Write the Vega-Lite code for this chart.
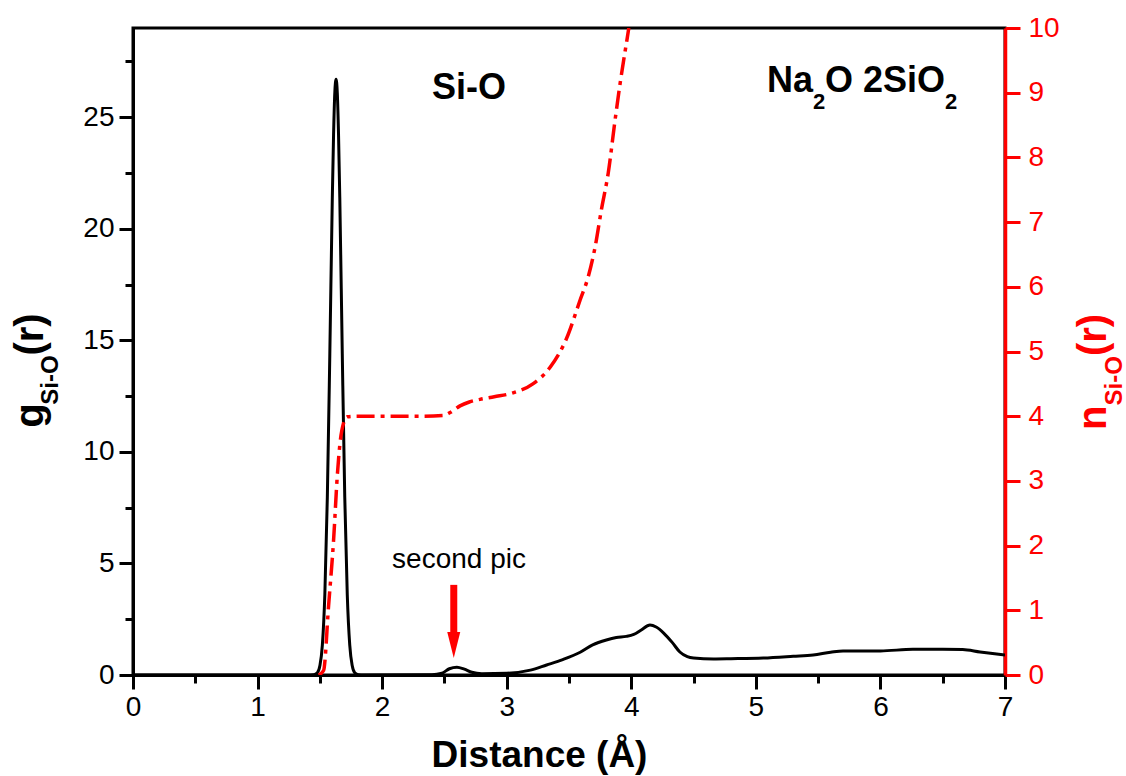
{
  "$schema": "https://vega.github.io/schema/vega-lite/v6.json",
  "width": 872,
  "height": 647,
  "autosize": {"type": "none"},
  "padding": {"left": 133, "top": 28, "right": 121, "bottom": 101},
  "background": "white",
  "view": {"stroke": "black", "strokeWidth": 3},
  "config": {"font": "Liberation Sans", "axis": {"grid": false, "labelFont": "Liberation Sans", "titleFont": "Liberation Sans"}},
  "datasets": {
    "g": [
      {"r": 0, "g": 0}, {"r": 1.40, "g": 0}, {"r": 1.45, "g": 0.01}, {"r": 1.48, "g": 0.10},
      {"r": 1.50, "g": 0.41}, {"r": 1.52, "g": 1.34}, {"r": 1.54, "g": 3.61}, {"r": 1.56, "g": 7.96},
      {"r": 1.58, "g": 14.4}, {"r": 1.60, "g": 21.4}, {"r": 1.61, "g": 24.2}, {"r": 1.62, "g": 26.1},
      {"r": 1.63, "g": 26.7}, {"r": 1.64, "g": 26.1}, {"r": 1.65, "g": 24.2}, {"r": 1.66, "g": 21.4},
      {"r": 1.68, "g": 14.4}, {"r": 1.70, "g": 7.96}, {"r": 1.72, "g": 3.61}, {"r": 1.74, "g": 1.34},
      {"r": 1.76, "g": 0.41}, {"r": 1.78, "g": 0.10}, {"r": 1.81, "g": 0.01}, {"r": 1.85, "g": 0},
      {"r": 2.40, "g": 0.01}, {"r": 2.48, "g": 0.08}, {"r": 2.54, "g": 0.28}, {"r": 2.60, "g": 0.35},
      {"r": 2.66, "g": 0.26}, {"r": 2.72, "g": 0.12}, {"r": 2.80, "g": 0.06}, {"r": 3.00, "g": 0.08},
      {"r": 3.19, "g": 0.22}, {"r": 3.32, "g": 0.45}, {"r": 3.45, "g": 0.69}, {"r": 3.59, "g": 1.02},
      {"r": 3.69, "g": 1.35}, {"r": 3.80, "g": 1.57}, {"r": 3.88, "g": 1.68}, {"r": 3.96, "g": 1.73},
      {"r": 4.02, "g": 1.82}, {"r": 4.08, "g": 2.02}, {"r": 4.15, "g": 2.24}, {"r": 4.20, "g": 2.15},
      {"r": 4.26, "g": 1.88}, {"r": 4.33, "g": 1.45}, {"r": 4.39, "g": 1.03}, {"r": 4.45, "g": 0.82},
      {"r": 4.50, "g": 0.76}, {"r": 4.66, "g": 0.72}, {"r": 4.80, "g": 0.73}, {"r": 5.06, "g": 0.76},
      {"r": 5.30, "g": 0.84}, {"r": 5.46, "g": 0.90}, {"r": 5.60, "g": 1.02}, {"r": 5.70, "g": 1.08},
      {"r": 6.00, "g": 1.08}, {"r": 6.26, "g": 1.15}, {"r": 6.50, "g": 1.15}, {"r": 6.66, "g": 1.14},
      {"r": 6.80, "g": 1.03}, {"r": 6.90, "g": 0.96}, {"r": 7.00, "g": 0.90}
    ],
    "n": [
      {"r": 1.49, "n": 0}, {"r": 1.53, "n": 0.07}, {"r": 1.57, "n": 1.07}, {"r": 1.61, "n": 2.08},
      {"r": 1.64, "n": 3.08}, {"r": 1.66, "n": 3.55}, {"r": 1.69, "n": 3.89}, {"r": 1.72, "n": 3.99},
      {"r": 1.80, "n": 4.0}, {"r": 2.0, "n": 4.0}, {"r": 2.3, "n": 4.0}, {"r": 2.49, "n": 4.01},
      {"r": 2.55, "n": 4.06}, {"r": 2.625, "n": 4.16}, {"r": 2.70, "n": 4.22}, {"r": 2.786, "n": 4.26},
      {"r": 2.90, "n": 4.30}, {"r": 3.05, "n": 4.36}, {"r": 3.21, "n": 4.5}, {"r": 3.35, "n": 4.76},
      {"r": 3.48, "n": 5.2}, {"r": 3.59, "n": 5.8}, {"r": 3.655, "n": 6.16}, {"r": 3.71, "n": 6.62},
      {"r": 3.76, "n": 7.19}, {"r": 3.815, "n": 7.76}, {"r": 3.87, "n": 8.58}, {"r": 3.91, "n": 9.14},
      {"r": 3.976, "n": 9.95}, {"r": 3.98, "n": 10.0}
    ],
    "bigText": [
      {"text": "Na", "x": 5.09, "y": 26.12},
      {"text": "O 2SiO", "x": 5.555, "y": 26.12}
    ],
    "subText": [
      {"text": "2", "x": 5.459, "y": 25.38},
      {"text": "2", "x": 6.5185, "y": 25.38}
    ],
    "leftTitleBig": [
      {"text": "g", "x": -0.7225, "y": 11.086},
      {"text": "(r)", "x": -0.7225, "y": 14.318}
    ],
    "leftTitleSub": [
      {"text": "Si-O", "x": -0.602, "y": 12.118}
    ],
    "rightTitleBig": [
      {"text": "n", "x": 7.811, "y": 3.787},
      {"text": "(r)", "x": 7.811, "y": 4.93}
    ],
    "rightTitleSub": [
      {"text": "Si-O", "x": 7.939, "y": 4.167}
    ]
  },
  "layer": [
    {
      "layer": [
        {
          "data": {"name": "g"},
          "mark": {"type": "line", "color": "black", "strokeWidth": 3, "interpolate": "monotone", "clip": true},
          "encoding": {
            "x": {"field": "r", "type": "quantitative", "scale": {"domain": [0, 7], "nice": false, "zero": false},
              "axis": {
                "values": [0, 0.5, 1, 1.5, 2, 2.5, 3, 3.5, 4, 4.5, 5, 5.5, 6, 6.5, 7],
                "labelExpr": "datum.value % 1 === 0 ? format(datum.value, 'd') : ''",
                "labelFlush": false, "labelOverlap": false,
                "tickSize": {"condition": {"test": "datum.value % 1 === 0", "value": 14}, "value": 8},
                "tickWidth": 3, "domainWidth": 3, "domainColor": "black", "tickColor": "black",
                "labelFontSize": 28, "labelColor": "black", "labelPadding": 4,
                "title": "Distance (Å)", "titleFontSize": 37, "titleFontWeight": "bold", "titleColor": "black",
                "titleX": 406, "titleY": 91, "titleBaseline": "alphabetic", "titleAlign": "center"
              }},
            "y": {"field": "g", "type": "quantitative", "scale": {"domain": [0, 29], "nice": false},
              "axis": {
                "orient": "left",
                "values": [0, 2.5, 5, 7.5, 10, 12.5, 15, 17.5, 20, 22.5, 25, 27.5],
                "labelExpr": "datum.value % 5 === 0 ? format(datum.value, 'd') : ''",
                "labelOverlap": false,
                "tickSize": {"condition": {"test": "datum.value % 5 === 0", "value": 14}, "value": 8},
                "tickWidth": 3, "domainWidth": 3, "domainColor": "black", "tickColor": "black",
                "labelFontSize": 28, "labelColor": "black", "labelPadding": 5,
                "title": null
              }}
          }
        },
        {
          "data": {"values": [{"label": "Si-O", "x": 2.697, "y": 25.81}]},
          "mark": {"type": "text", "fontSize": 36, "fontWeight": "bold", "color": "black", "align": "center", "baseline": "alphabetic"},
          "encoding": {
            "x": {"field": "x", "type": "quantitative", "scale": {"domain": [0, 7]}},
            "y": {"field": "y", "type": "quantitative", "scale": {"domain": [0, 29]}},
            "text": {"field": "label"}
          }
        },
        {
          "data": {"name": "bigText"},
          "mark": {"type": "text", "fontSize": 36, "fontWeight": "bold", "color": "black", "align": "left", "baseline": "alphabetic"},
          "encoding": {
            "x": {"field": "x", "type": "quantitative", "scale": {"domain": [0, 7]}},
            "y": {"field": "y", "type": "quantitative", "scale": {"domain": [0, 29]}},
            "text": {"field": "text"}
          }
        },
        {
          "data": {"name": "subText"},
          "mark": {"type": "text", "fontSize": 22, "fontWeight": "bold", "color": "black", "align": "left", "baseline": "alphabetic"},
          "encoding": {
            "x": {"field": "x", "type": "quantitative", "scale": {"domain": [0, 7]}},
            "y": {"field": "y", "type": "quantitative", "scale": {"domain": [0, 29]}},
            "text": {"field": "text"}
          }
        },
        {
          "data": {"values": [{"label": "second pic", "x": 2.617, "y": 4.80}]},
          "mark": {"type": "text", "fontSize": 28, "color": "black", "align": "center", "baseline": "alphabetic"},
          "encoding": {
            "x": {"field": "x", "type": "quantitative", "scale": {"domain": [0, 7]}},
            "y": {"field": "y", "type": "quantitative", "scale": {"domain": [0, 29]}},
            "text": {"field": "label"}
          }
        },
        {
          "data": {"values": [{"x": 2.575, "y1": 4.04, "y2": 1.8}]},
          "mark": {"type": "rule", "color": "red", "strokeWidth": 7},
          "encoding": {
            "x": {"field": "x", "type": "quantitative", "scale": {"domain": [0, 7]}},
            "y": {"field": "y1", "type": "quantitative", "scale": {"domain": [0, 29]}},
            "y2": {"field": "y2"}
          }
        },
        {
          "data": {"values": [{"x": 2.575, "y": 1.35}]},
          "mark": {"type": "point", "shape": "M-0.5,-1L0.5,-1L0,1Z", "size": 676, "filled": true, "color": "red", "opacity": 1, "strokeWidth": 0},
          "encoding": {
            "x": {"field": "x", "type": "quantitative", "scale": {"domain": [0, 7]}},
            "y": {"field": "y", "type": "quantitative", "scale": {"domain": [0, 29]}}
          }
        },
        {
          "data": {"name": "leftTitleBig"},
          "mark": {"type": "text", "fontSize": 40, "fontWeight": "bold", "color": "black", "align": "left", "baseline": "alphabetic", "angle": 270},
          "encoding": {
            "x": {"field": "x", "type": "quantitative", "scale": {"domain": [0, 7]}},
            "y": {"field": "y", "type": "quantitative", "scale": {"domain": [0, 29]}},
            "text": {"field": "text"}
          }
        },
        {
          "data": {"name": "leftTitleSub"},
          "mark": {"type": "text", "fontSize": 24, "fontWeight": "bold", "color": "black", "align": "left", "baseline": "alphabetic", "angle": 270},
          "encoding": {
            "x": {"field": "x", "type": "quantitative", "scale": {"domain": [0, 7]}},
            "y": {"field": "y", "type": "quantitative", "scale": {"domain": [0, 29]}},
            "text": {"field": "text"}
          }
        }
      ]
    },
    {
      "layer": [
        {
          "data": {"name": "n"},
          "mark": {"type": "line", "color": "red", "strokeWidth": 3.5, "strokeDash": [18, 6, 4, 6], "interpolate": "monotone", "clip": true},
          "encoding": {
            "x": {"field": "r", "type": "quantitative", "scale": {"domain": [0, 7]}},
            "y": {"field": "n", "type": "quantitative", "scale": {"domain": [0, 10], "nice": false},
              "axis": {
                "orient": "right",
                "values": [0, 0.5, 1, 1.5, 2, 2.5, 3, 3.5, 4, 4.5, 5, 5.5, 6, 6.5, 7, 7.5, 8, 8.5, 9, 9.5, 10],
                "labelExpr": "datum.value % 1 === 0 ? format(datum.value, 'd') : ''",
                "labelOverlap": false, "labelFlush": false,
                "tickSize": {"condition": {"test": "datum.value % 1 === 0", "value": 15}, "value": 9},
                "tickWidth": 3, "domainWidth": 3.5, "domainColor": "red", "tickColor": "red",
                "labelFontSize": 28, "labelColor": "red", "labelPadding": 8,
                "title": null
              }}
          }
        },
        {
          "data": {"name": "rightTitleBig"},
          "mark": {"type": "text", "fontSize": 40, "fontWeight": "bold", "color": "red", "align": "left", "baseline": "alphabetic", "angle": 270},
          "encoding": {
            "x": {"field": "x", "type": "quantitative", "scale": {"domain": [0, 7]}},
            "y": {"field": "y", "type": "quantitative", "scale": {"domain": [0, 10]}},
            "text": {"field": "text"}
          }
        },
        {
          "data": {"name": "rightTitleSub"},
          "mark": {"type": "text", "fontSize": 24, "fontWeight": "bold", "color": "red", "align": "left", "baseline": "alphabetic", "angle": 270},
          "encoding": {
            "x": {"field": "x", "type": "quantitative", "scale": {"domain": [0, 7]}},
            "y": {"field": "y", "type": "quantitative", "scale": {"domain": [0, 10]}},
            "text": {"field": "text"}
          }
        }
      ]
    }
  ],
  "resolve": {"scale": {"y": "independent"}}
}
